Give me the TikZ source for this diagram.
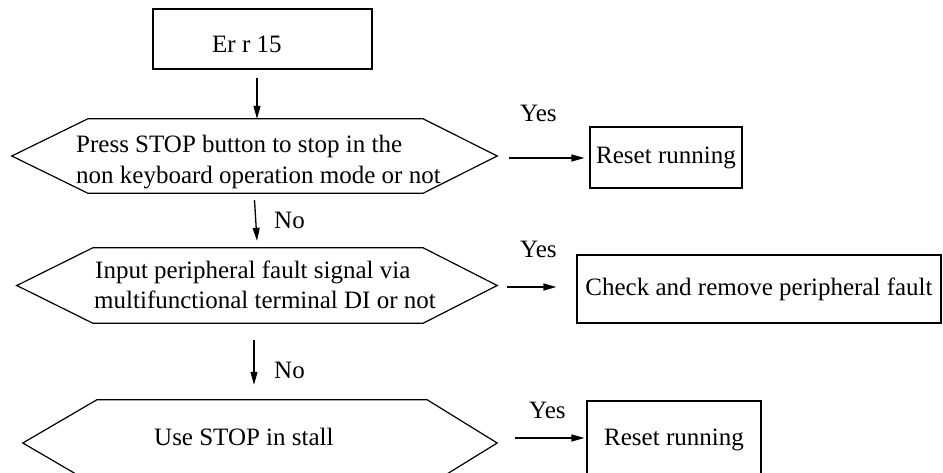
\documentclass[tikz,border=0pt]{standalone}
\usepackage{fontspec}
\setmainfont{Liberation Serif}
\usetikzlibrary{arrows.meta}
\begin{document}
\begin{tikzpicture}[x=1pt,y=-1pt,
  every node/.style={font=\fontsize{25}{30}\selectfont},
  boxnode/.style={draw,line width=1.2pt,inner sep=0pt},
  hexframe/.style={inner sep=0pt},
  hexline/.style={line width=1.2pt,line join=miter},
  txt/.style={inner sep=0pt,anchor=base west},
  arr/.style={line width=1.3pt,-{Triangle[length=13pt,width=7pt]}}]
\useasboundingbox (0,0) rectangle (943,472);
\clip (0,0) rectangle (943,472);
\fill[white] (0,0) rectangle (943,472);

% top box
\node[boxnode,minimum width=219pt,minimum height=60pt] (err) at (262.5,39) {};
\node[txt] (errt) at (212,52) {Er r 15};

% decision 1
\node[hexframe,minimum width=485pt,minimum height=74pt] (q1) at (254.5,156) {};
\draw[hexline] (q1.west) -- ([xshift=76pt]q1.north west) -- ([xshift=-74pt]q1.north east)
  -- (q1.east) -- ([xshift=-74pt]q1.south east) -- ([xshift=76pt]q1.south west) -- cycle;
\node[txt] (q1a) at (76,152) {Press STOP button to stop in the};
\node[txt] (q1b) at (76,183) {non keyboard operation mode or not};

% decision 2
\node[hexframe,minimum width=480pt,minimum height=75pt] (q2) at (257,285.5) {};
\draw[hexline] (q2.west) -- ([xshift=76pt]q2.north west) -- ([xshift=-74pt]q2.north east)
  -- (q2.east) -- ([xshift=-74pt]q2.south east) -- ([xshift=76pt]q2.south west) -- cycle;
\node[txt] (q2a) at (95,278) {Input peripheral fault signal via};
\node[txt] (q2b) at (94,308) {multifunctional terminal DI or not};

% decision 3
\node[hexframe,minimum width=474pt,minimum height=86pt] (q3) at (260,443) {};
\draw[hexline] (q3.west) -- ([xshift=74pt]q3.north west) -- ([xshift=-70pt]q3.north east)
  -- (q3.east) -- ([xshift=-70pt]q3.south east) -- ([xshift=74pt]q3.south west) -- cycle;
\node[txt] (q3a) at (154,445) {Use STOP in stall};

% result boxes
\node[boxnode,minimum width=152pt,minimum height=61pt] (r1) at (666,157.5) {Reset running};
\node[boxnode,minimum width=364pt,minimum height=68pt] (r2) at (759,289) {Check and remove peripheral fault};
\node[boxnode,minimum width=174pt,minimum height=78pt] (r3) at (674,440) {Reset running};

% vertical arrows
\coordinate (a1s) at ([xshift=-5.5pt,yshift=-8pt]err.south);
\draw[arr] (a1s) -- (a1s |- q1.north);
\draw[arr] ([yshift=-7pt]q1.south) -- ([yshift=7pt]q2.north);
\coordinate (a3s) at ([xshift=-3pt,yshift=-17pt]q2.south);
\coordinate (a3e) at ([yshift=15pt]q3.north);
\draw[arr] (a3s) -- (a3s |- a3e);

% horizontal arrows
\draw[arr,shorten <=12pt,shorten >=5pt] ([yshift=-2pt]q1.east) -- ([yshift=-2pt]q1.east -| r1.west);
\draw[arr,shorten <=10pt,shorten >=20pt] ([yshift=-1.5pt]q2.east) -- ([yshift=-1.5pt]q2.east -| r2.west);
\coordinate (y3s) at ([shift={(18,-5)}]q3.east);
\draw[arr,shorten >=2pt] (y3s) -- (y3s -| r3.west);

% labels
\node[txt] (yes1) at (520,121) {Yes};
\node[txt] (yes2) at (520,257) {Yes};
\node[txt] (yes3) at (529,418) {Yes};
\node[txt] (no1) at (274,228) {No};
\node[txt] (no2) at (274,378) {No};
\end{tikzpicture}
\end{document}
